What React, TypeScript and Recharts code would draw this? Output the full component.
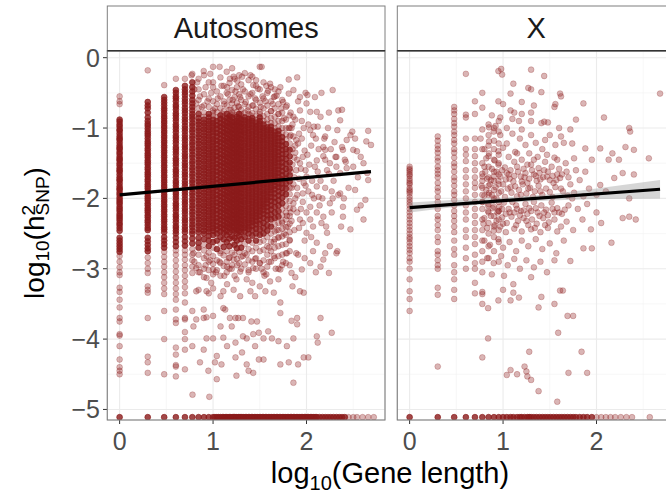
import React from "react";
import { ComposedChart, Scatter, Line, Area, XAxis, YAxis, CartesianGrid } from "recharts";

const RED = "#8B1A1A";
const FONT = "Liberation Sans, Arial, sans-serif";
const X_DOMAIN: [number, number] = [-0.135, 2.84];
const Y_DOMAIN: [number, number] = [-5.15, 0.095];
const xTicks = [0, 1, 2];
const yTicks = [0, -1, -2, -3, -4, -5];
const xMinor = [0.5, 1.5, 2.5];
const yMinor = [-0.5, -1.5, -2.5, -3.5, -4.5];
const panelNames = ["Autosomes", "X"];
const FLOOR = -5.11;

// Autosomes: short genes sit on discrete log10 positions
const autoColumnX = [0, 0.301, 0.477, 0.602, 0.699, 0.778];
// where the genes in a column pile up so much that the strip is solid
const autoColumnCoreTop = [-0.88, -0.63, -0.56, -0.46, -0.4, -0.35];
const autoColumnCoreBottom = [-2.76, -2.75, -2.7, -2.7, -2.7, -2.7];
const autoColumnY = [
  [-0.55, -0.62, -0.66, -0.88, -0.91, -0.95, -0.98, -1.02, -1.04, -1.08, -1.12, -1.15, -1.17, -1.21, -1.25, -1.28, -1.3, -1.34, -1.37, -1.41, -1.44, -1.46, -1.5, -1.53, -1.57, -1.6, -1.62, -1.66, -1.7, -1.73, -1.75, -1.79, -1.83, -1.86, -1.88, -1.92, -1.95, -1.99, -2.02, -2.05, -2.08, -2.12, -2.15, -2.18, -2.22, -2.25, -2.28, -2.31, -2.35, -2.38, -2.42, -2.46, -2.56, -2.6, -2.64, -2.68, -2.72, -2.76, -2.82, -2.9, -2.98, -3.05, -3.09, -3.27, -3.33, -3.44, -3.55, -3.7, -3.75, -3.93, -3.95, -4.1, -4.29, -4.4, -4.45, -4.5],
  [-0.18, -0.63, -0.68, -0.72, -0.78, -0.85, -0.9, -0.94, -0.97, -1.01, -1.05, -1.08, -1.11, -1.15, -1.19, -1.22, -1.25, -1.29, -1.32, -1.36, -1.39, -1.42, -1.46, -1.49, -1.52, -1.56, -1.59, -1.63, -1.66, -1.69, -1.73, -1.76, -1.8, -1.83, -1.86, -1.9, -1.93, -1.97, -2.0, -2.03, -2.07, -2.1, -2.14, -2.17, -2.2, -2.24, -2.27, -2.31, -2.34, -2.38, -2.42, -2.45, -2.56, -2.61, -2.66, -2.71, -2.75, -2.84, -2.92, -3.0, -3.06, -3.25, -3.3, -3.34, -3.7, -4.25, -4.33, -4.48],
  [-0.39, -0.56, -0.6, -0.64, -0.68, -0.72, -0.75, -0.79, -0.83, -0.86, -0.9, -0.93, -0.97, -1.0, -1.04, -1.07, -1.11, -1.14, -1.18, -1.21, -1.25, -1.28, -1.32, -1.35, -1.39, -1.42, -1.46, -1.49, -1.53, -1.56, -1.6, -1.63, -1.67, -1.7, -1.74, -1.77, -1.81, -1.84, -1.88, -1.91, -1.95, -1.98, -2.02, -2.05, -2.09, -2.12, -2.16, -2.19, -2.23, -2.26, -2.3, -2.33, -2.37, -2.41, -2.44, -2.48, -2.55, -2.6, -2.65, -2.7, -2.76, -2.83, -2.9, -2.97, -3.05, -3.12, -3.2, -3.28, -3.36, -3.6, -4.0, -4.5],
  [-0.3, -0.46, -0.5, -0.55, -0.58, -0.62, -0.67, -0.7, -0.74, -0.79, -0.82, -0.86, -0.9, -0.95, -0.98, -1.02, -1.06, -1.11, -1.14, -1.18, -1.22, -1.27, -1.3, -1.34, -1.38, -1.43, -1.46, -1.5, -1.54, -1.59, -1.62, -1.66, -1.7, -1.75, -1.78, -1.82, -1.86, -1.91, -1.94, -1.98, -2.02, -2.07, -2.1, -2.14, -2.18, -2.23, -2.26, -2.3, -2.34, -2.39, -2.42, -2.46, -2.5, -2.56, -2.62, -2.68, -2.74, -2.8, -2.88, -2.96, -3.04, -3.12, -3.2, -3.28, -3.36, -3.44, -3.58, -3.72, -3.77, -4.12, -4.22, -4.37, -4.39, -4.53],
  [-0.3, -0.4, -0.45, -0.49, -0.53, -0.58, -0.62, -0.66, -0.71, -0.75, -0.79, -0.84, -0.88, -0.92, -0.97, -1.01, -1.05, -1.1, -1.14, -1.18, -1.23, -1.27, -1.31, -1.36, -1.4, -1.44, -1.49, -1.53, -1.57, -1.62, -1.66, -1.7, -1.75, -1.79, -1.83, -1.88, -1.92, -1.96, -2.01, -2.05, -2.09, -2.14, -2.18, -2.22, -2.27, -2.31, -2.35, -2.4, -2.44, -2.48, -2.55, -2.61, -2.67, -2.74, -2.8, -2.87, -2.95, -3.02, -3.1, -3.18, -3.26, -3.35, -3.48, -3.7, -3.72, -3.9, -4.0, -4.15, -4.43],
  [-0.23, -0.35, -0.42, -0.48, -0.54, -0.6, -0.65, -0.7, -0.75, -0.8, -0.84, -0.88, -0.93, -0.97, -1.02, -1.06, -1.11, -1.15, -1.2, -1.24, -1.29, -1.33, -1.38, -1.42, -1.47, -1.51, -1.56, -1.6, -1.65, -1.69, -1.74, -1.78, -1.83, -1.87, -1.92, -1.96, -2.01, -2.05, -2.1, -2.14, -2.19, -2.23, -2.28, -2.32, -2.37, -2.41, -2.46, -2.5, -2.57, -2.64, -2.72, -2.8, -2.88, -2.97, -3.06, -3.6, -4.1],
];

// Autosomes: the dense core, read in thin vertical strips
const autoBlockX = [0.845, 0.903, 0.954, 1.0, 1.041, 1.079, 1.114, 1.146, 1.176, 1.204, 1.23, 1.255, 1.279, 1.301, 1.34, 1.38, 1.42, 1.46, 1.5, 1.54, 1.58, 1.62, 1.66, 1.7, 1.74, 1.78, 1.82];
const autoBlockCoreTop = [-0.8, -0.88, -0.78, -0.84, -0.9, -0.8, -0.86, -0.76, -0.83, -0.8, -0.88, -0.82, -0.78, -0.86, -0.8, -0.85, -0.82, -0.9, -0.84, -0.92, -0.95, -0.98, -1.02, -1.0, -1.1, -1.2, -1.3];
const autoBlockCoreBottom = [-2.7, -2.58, -2.76, -2.62, -2.72, -2.55, -2.69, -2.62, -2.76, -2.54, -2.66, -2.71, -2.6, -2.7, -2.55, -2.65, -2.53, -2.62, -2.52, -2.5, -2.46, -2.4, -2.3, -2.28, -2.1, -1.95, -1.8];
const autoBlockY = [
  [-0.3, -0.45, -0.6, -0.72, -0.8, -0.86, -0.91, -0.95, -1.0, -1.04, -1.09, -1.13, -1.18, -1.22, -1.27, -1.31, -1.36, -1.4, -1.45, -1.49, -1.54, -1.58, -1.63, -1.67, -1.72, -1.76, -1.81, -1.85, -1.9, -1.94, -1.99, -2.03, -2.08, -2.12, -2.17, -2.21, -2.26, -2.3, -2.35, -2.39, -2.44, -2.48, -2.56, -2.63, -2.7, -2.8, -2.95, -3.05, -3.3],
  [-0.25, -0.52, -0.68, -0.78, -0.84, -0.88, -0.93, -0.97, -1.02, -1.06, -1.11, -1.15, -1.2, -1.24, -1.29, -1.33, -1.38, -1.42, -1.47, -1.51, -1.56, -1.6, -1.65, -1.69, -1.74, -1.78, -1.83, -1.87, -1.92, -1.96, -2.01, -2.05, -2.1, -2.14, -2.19, -2.23, -2.28, -2.32, -2.37, -2.41, -2.46, -2.5, -2.58, -2.66, -2.74, -2.85, -3.0, -3.12],
  [-0.35, -0.58, -0.7, -0.8, -0.85, -0.9, -0.94, -0.99, -1.03, -1.08, -1.12, -1.17, -1.21, -1.26, -1.3, -1.35, -1.39, -1.44, -1.48, -1.53, -1.57, -1.62, -1.66, -1.71, -1.75, -1.8, -1.84, -1.89, -1.93, -1.98, -2.02, -2.07, -2.11, -2.16, -2.2, -2.25, -2.29, -2.34, -2.38, -2.43, -2.47, -2.53, -2.6, -2.68, -2.77, -2.9, -3.02, -3.35],
  [-0.13, -0.42, -0.62, -0.75, -0.83, -0.88, -0.93, -0.97, -1.02, -1.06, -1.11, -1.16, -1.2, -1.25, -1.29, -1.34, -1.38, -1.43, -1.47, -1.52, -1.56, -1.61, -1.65, -1.7, -1.74, -1.79, -1.83, -1.88, -1.92, -1.97, -2.01, -2.06, -2.1, -2.15, -2.19, -2.24, -2.28, -2.33, -2.37, -2.42, -2.46, -2.52, -2.62, -2.7, -2.82, -2.93, -3.08],
  [-0.48, -0.66, -0.77, -0.85, -0.9, -0.96, -1.01, -1.07, -1.12, -1.18, -1.23, -1.29, -1.34, -1.4, -1.45, -1.51, -1.56, -1.62, -1.67, -1.73, -1.78, -1.84, -1.89, -1.95, -2.0, -2.06, -2.11, -2.17, -2.22, -2.28, -2.33, -2.39, -2.44, -2.5, -2.6, -2.72, -2.88, -3.02],
  [-0.28, -0.55, -0.72, -0.82, -0.87, -0.93, -0.98, -1.04, -1.09, -1.15, -1.2, -1.26, -1.31, -1.37, -1.42, -1.48, -1.53, -1.59, -1.64, -1.7, -1.75, -1.81, -1.86, -1.92, -1.97, -2.03, -2.08, -2.14, -2.19, -2.25, -2.3, -2.36, -2.41, -2.47, -2.55, -2.64, -2.78, -2.92, -3.1],
  [-0.4, -0.62, -0.76, -0.84, -0.89, -0.95, -1.0, -1.06, -1.11, -1.17, -1.22, -1.28, -1.33, -1.39, -1.44, -1.5, -1.55, -1.61, -1.66, -1.72, -1.77, -1.83, -1.88, -1.94, -1.99, -2.05, -2.1, -2.16, -2.21, -2.27, -2.32, -2.38, -2.43, -2.49, -2.58, -2.69, -2.81, -2.96],
  [-0.2, -0.5, -0.68, -0.8, -0.86, -0.92, -0.97, -1.03, -1.08, -1.14, -1.19, -1.25, -1.3, -1.36, -1.41, -1.47, -1.52, -1.58, -1.63, -1.69, -1.74, -1.8, -1.85, -1.91, -1.96, -2.02, -2.07, -2.13, -2.18, -2.24, -2.29, -2.35, -2.4, -2.46, -2.52, -2.62, -2.75, -2.9, -3.05],
  [-0.36, -0.6, -0.74, -0.83, -0.88, -0.94, -0.99, -1.05, -1.1, -1.16, -1.21, -1.27, -1.32, -1.38, -1.43, -1.49, -1.54, -1.6, -1.65, -1.71, -1.76, -1.82, -1.87, -1.93, -1.98, -2.04, -2.09, -2.15, -2.2, -2.26, -2.31, -2.37, -2.42, -2.48, -2.57, -2.68, -2.84, -3.0],
  [-0.15, -0.46, -0.65, -0.78, -0.85, -0.91, -0.96, -1.02, -1.07, -1.13, -1.18, -1.24, -1.29, -1.35, -1.4, -1.46, -1.51, -1.57, -1.62, -1.68, -1.73, -1.79, -1.84, -1.9, -1.95, -2.01, -2.06, -2.12, -2.17, -2.23, -2.28, -2.34, -2.39, -2.45, -2.54, -2.63, -2.77, -2.95],
  [-0.3, -0.56, -0.71, -0.81, -0.87, -0.92, -0.98, -1.03, -1.09, -1.14, -1.2, -1.25, -1.31, -1.36, -1.42, -1.47, -1.53, -1.58, -1.64, -1.69, -1.75, -1.8, -1.86, -1.91, -1.97, -2.02, -2.08, -2.13, -2.19, -2.24, -2.3, -2.35, -2.41, -2.46, -2.56, -2.66, -2.8, -3.1],
  [-0.42, -0.64, -0.77, -0.84, -0.9, -0.95, -1.01, -1.06, -1.12, -1.17, -1.23, -1.28, -1.34, -1.39, -1.45, -1.5, -1.56, -1.61, -1.67, -1.72, -1.78, -1.83, -1.89, -1.94, -2.0, -2.05, -2.11, -2.16, -2.22, -2.27, -2.33, -2.38, -2.44, -2.5, -2.6, -2.71, -2.86],
  [-0.25, -0.52, -0.7, -0.8, -0.86, -0.92, -0.97, -1.03, -1.08, -1.14, -1.19, -1.25, -1.3, -1.36, -1.41, -1.47, -1.52, -1.58, -1.63, -1.69, -1.74, -1.8, -1.85, -1.91, -1.96, -2.02, -2.07, -2.13, -2.18, -2.24, -2.29, -2.35, -2.4, -2.46, -2.53, -2.64, -2.76, -2.92],
  [-0.38, -0.6, -0.74, -0.83, -0.88, -0.94, -0.99, -1.05, -1.1, -1.16, -1.21, -1.27, -1.32, -1.38, -1.43, -1.49, -1.54, -1.6, -1.65, -1.71, -1.76, -1.82, -1.87, -1.93, -1.98, -2.04, -2.09, -2.15, -2.2, -2.26, -2.31, -2.37, -2.42, -2.48, -2.58, -2.7, -2.83, -3.0],
  [-0.22, -0.48, -0.66, -0.78, -0.85, -0.89, -0.94, -0.98, -1.03, -1.07, -1.12, -1.16, -1.21, -1.25, -1.3, -1.34, -1.39, -1.43, -1.48, -1.52, -1.57, -1.61, -1.66, -1.7, -1.75, -1.79, -1.84, -1.88, -1.93, -1.97, -2.02, -2.06, -2.11, -2.15, -2.2, -2.24, -2.29, -2.33, -2.38, -2.42, -2.47, -2.55, -2.65, -2.78, -2.94],
  [-0.32, -0.55, -0.7, -0.8, -0.87, -0.91, -0.96, -1.0, -1.05, -1.09, -1.14, -1.18, -1.23, -1.27, -1.32, -1.36, -1.41, -1.45, -1.5, -1.54, -1.59, -1.63, -1.68, -1.72, -1.77, -1.81, -1.86, -1.9, -1.95, -1.99, -2.04, -2.08, -2.13, -2.17, -2.22, -2.26, -2.31, -2.35, -2.4, -2.44, -2.5, -2.6, -2.72, -2.88, -3.05],
  [-0.27, -0.5, -0.68, -0.79, -0.86, -0.9, -0.95, -0.99, -1.04, -1.08, -1.13, -1.17, -1.22, -1.26, -1.31, -1.35, -1.4, -1.44, -1.49, -1.53, -1.58, -1.62, -1.67, -1.71, -1.76, -1.8, -1.85, -1.89, -1.94, -1.98, -2.03, -2.07, -2.12, -2.16, -2.21, -2.25, -2.3, -2.34, -2.39, -2.45, -2.53, -2.63, -2.75, -2.9],
  [-0.4, -0.6, -0.73, -0.82, -0.88, -0.92, -0.97, -1.01, -1.06, -1.1, -1.15, -1.19, -1.24, -1.28, -1.33, -1.37, -1.42, -1.46, -1.51, -1.55, -1.6, -1.64, -1.69, -1.73, -1.78, -1.82, -1.87, -1.91, -1.96, -2.0, -2.05, -2.09, -2.14, -2.18, -2.23, -2.27, -2.32, -2.37, -2.43, -2.5, -2.6, -2.7, -2.85, -3.0],
  [-0.13, -0.45, -0.64, -0.77, -0.85, -0.9, -0.94, -0.99, -1.03, -1.08, -1.12, -1.17, -1.21, -1.26, -1.3, -1.35, -1.39, -1.44, -1.48, -1.53, -1.57, -1.62, -1.66, -1.71, -1.75, -1.8, -1.84, -1.89, -1.93, -1.98, -2.02, -2.07, -2.11, -2.16, -2.2, -2.25, -2.3, -2.36, -2.44, -2.52, -2.62, -2.75, -2.92],
  [-0.35, -0.58, -0.72, -0.83, -0.9, -0.95, -1.0, -1.04, -1.09, -1.13, -1.18, -1.22, -1.27, -1.31, -1.36, -1.4, -1.45, -1.49, -1.54, -1.58, -1.63, -1.67, -1.72, -1.76, -1.81, -1.85, -1.9, -1.94, -1.99, -2.03, -2.08, -2.12, -2.17, -2.22, -2.28, -2.35, -2.42, -2.5, -2.6, -2.73, -2.88, -3.05],
  [-0.5, -0.68, -0.8, -0.88, -0.94, -0.99, -1.03, -1.08, -1.12, -1.17, -1.21, -1.26, -1.3, -1.35, -1.39, -1.44, -1.48, -1.53, -1.57, -1.62, -1.66, -1.71, -1.75, -1.8, -1.84, -1.89, -1.93, -1.98, -2.02, -2.07, -2.12, -2.18, -2.24, -2.3, -2.38, -2.46, -2.55, -2.68, -2.8, -2.97],
  [-0.42, -0.62, -0.76, -0.86, -0.93, -0.98, -1.03, -1.07, -1.12, -1.16, -1.21, -1.25, -1.3, -1.34, -1.39, -1.43, -1.48, -1.52, -1.57, -1.61, -1.66, -1.7, -1.75, -1.79, -1.84, -1.88, -1.93, -1.98, -2.04, -2.1, -2.16, -2.23, -2.3, -2.4, -2.5, -2.62, -2.75, -2.9],
  [-0.55, -0.72, -0.84, -0.93, -1.0, -1.05, -1.1, -1.14, -1.19, -1.23, -1.28, -1.32, -1.37, -1.41, -1.46, -1.5, -1.55, -1.59, -1.64, -1.68, -1.73, -1.77, -1.82, -1.87, -1.93, -1.99, -2.05, -2.12, -2.2, -2.28, -2.37, -2.47, -2.58, -2.7, -2.85],
  [-0.48, -0.66, -0.8, -0.9, -0.98, -1.04, -1.09, -1.14, -1.19, -1.24, -1.29, -1.34, -1.39, -1.44, -1.49, -1.54, -1.59, -1.64, -1.69, -1.74, -1.79, -1.84, -1.9, -1.96, -2.03, -2.1, -2.18, -2.26, -2.35, -2.45, -2.56, -2.68, -2.82, -3.0],
  [-0.6, -0.78, -0.9, -1.0, -1.07, -1.13, -1.19, -1.25, -1.31, -1.37, -1.43, -1.49, -1.55, -1.61, -1.67, -1.73, -1.79, -1.85, -1.92, -1.99, -2.07, -2.15, -2.24, -2.33, -2.43, -2.54, -2.66, -2.8, -2.95],
  [-0.7, -0.88, -1.0, -1.09, -1.16, -1.23, -1.3, -1.37, -1.44, -1.51, -1.58, -1.65, -1.72, -1.79, -1.86, -1.94, -2.02, -2.11, -2.2, -2.3, -2.41, -2.52, -2.65, -2.78, -2.92],
  [-0.82, -1.0, -1.12, -1.22, -1.31, -1.4, -1.49, -1.58, -1.67, -1.76, -1.85, -1.94, -2.04, -2.14, -2.25, -2.36, -2.48, -2.6, -2.75],
];

// Autosomes: scattered genes around the core, [log10 length, log10 h2]
const autoScatter = [
  [0.9, -0.19], [1.07, -0.13], [1.52, -0.13], [1.31, -0.27], [1.4, -0.25], [1.61, -0.37], [1.72, -0.42], [1.81, -0.51], [1.15, -0.42], [1.22, -0.27],
  [0.97, -0.23], [0.77, -0.25], [0.83, -0.35], [1.0, -0.35], [1.43, -0.39], [1.65, -0.56], [1.75, -0.63], [1.93, -0.75], [1.86, -0.84], [1.81, -0.31],
  [1.9, -0.28], [1.99, -0.5], [2.01, -0.53], [2.09, -0.56], [2.16, -0.5], [2.28, -0.46], [1.86, -0.46], [2.04, -0.77], [2.11, -0.77], [2.24, -0.78],
  [2.34, -0.75], [2.38, -0.74], [2.36, -0.89], [2.49, -1.05], [2.52, -1.15], [2.66, -1.04], [2.64, -1.19], [2.69, -1.24], [2.33, -1.03], [2.15, -0.84],
  [2.0, -0.65], [1.93, -0.56], [2.08, -0.98], [2.2, -1.12], [2.43, -1.17], [2.38, -1.27], [2.5, -1.31], [2.58, -1.41], [2.42, -1.48], [2.2, -1.31],
  [2.31, -1.41], [2.43, -1.57], [2.65, -1.64], [1.89, -1.17], [2.04, -1.03], [2.18, -1.27], [2.32, -1.41], [2.39, -1.31], [2.54, -1.33], [2.61, -1.5],
  [2.66, -1.74], [2.52, -1.88], [2.63, -2.02], [2.61, -2.3], [2.47, -2.44], [2.36, -1.93], [2.25, -2.07], [2.18, -2.26], [2.04, -2.12], [1.93, -2.3],
  [2.0, -2.49], [2.11, -2.63], [2.25, -2.68], [2.32, -2.78], [2.18, -2.87], [2.04, -2.92], [1.89, -2.78], [1.82, -2.59], [1.95, -3.01], [2.39, -2.26],
  [2.5, -1.55], [2.36, -1.64], [2.22, -1.6], [2.11, -1.46], [1.96, -1.41], [2.0, -1.69], [2.11, -1.83], [1.96, -1.93], [1.89, -1.6], [1.86, -2.07],
  [2.07, -2.4], [2.22, -2.49], [2.39, -2.12], [2.54, -2.16], [1.88, -1.35], [1.92, -1.08], [1.97, -1.78], [1.9, -2.2], [2.05, -1.25], [2.13, -1.98],
  [0.86, -0.55], [0.88, -0.7], [0.92, -0.42], [0.94, -0.62], [0.98, -0.5], [1.02, -0.72], [1.05, -0.58], [1.09, -0.4], [1.12, -0.66], [1.16, -0.52],
  [1.19, -0.74], [1.21, -0.6], [1.24, -0.48], [1.27, -0.69], [1.29, -0.56], [1.32, -0.45], [1.35, -0.63], [1.37, -0.75], [1.4, -0.52], [1.43, -0.68],
  [1.45, -0.58], [1.48, -0.44], [1.51, -0.7], [1.53, -0.55], [1.56, -0.62], [1.59, -0.47], [1.62, -0.76], [1.64, -0.66], [1.68, -0.54], [1.7, -0.8],
  [1.73, -0.72], [1.76, -0.86], [1.79, -0.68], [1.83, -0.78], [1.85, -0.95], [1.88, -0.88], [1.91, -0.62], [1.95, -0.9], [0.8, -0.45], [0.82, -0.65],
  [1.26, -0.33], [1.18, -0.3], [1.46, -0.32], [1.57, -0.4], [1.66, -0.45], [1.0, -0.78], [1.1, -0.8], [1.2, -0.82], [1.3, -0.8], [1.4, -0.82], [1.5, -0.8],
  [1.84, -1.0], [1.86, -1.12], [1.88, -1.25], [1.9, -1.45], [1.85, -1.52], [1.87, -1.7], [1.84, -1.85], [1.9, -1.95], [1.86, -2.15], [1.84, -2.32],
  [1.92, -2.42], [1.95, -1.15], [1.98, -1.32], [1.94, -1.58], [1.99, -1.82], [1.96, -2.05], [2.0, -2.2], [2.02, -0.95], [2.03, -1.52], [2.06, -1.75],
  [2.08, -2.0], [2.05, -2.55], [2.1, -1.15], [2.12, -1.62], [2.14, -2.1], [2.16, -2.35], [2.18, -1.4], [2.2, -1.85], [2.23, -1.0], [2.25, -1.5],
  [2.27, -2.2], [2.29, -1.75], [2.3, -1.2], [2.34, -1.95], [2.37, -2.4], [2.41, -1.45], [2.45, -1.85], [2.47, -1.1], [2.55, -1.7], [2.58, -2.1],
  [1.8, -2.4], [1.76, -2.5], [1.7, -2.55], [1.65, -2.62], [1.6, -2.7], [1.68, -2.45], [1.74, -2.35], [1.79, -2.25],
  [1.83, -1.1], [1.85, -1.3], [1.87, -1.42], [1.83, -1.62], [1.86, -1.8], [1.88, -2.0], [1.83, -2.2], [1.87, -2.45], [1.91, -1.22], [1.93, -1.5],
  [1.92, -1.72], [1.94, -2.15], [1.97, -1.0], [1.99, -1.6], [2.01, -1.38], [2.02, -1.9], [2.04, -2.3], [2.07, -1.1], [2.09, -1.55], [2.11, -2.2],
  [2.13, -1.3], [2.15, -1.75], [2.17, -2.0], [2.19, -1.15], [2.21, -2.4], [2.24, -1.65], [2.26, -1.3], [2.28, -2.0], [1.81, -1.0], [1.9, -1.85],
  [1.96, -2.35], [2.06, -1.95], [2.12, -0.98], [1.98, -2.6], [2.2, -1.45], [2.32, -1.55], [2.27, -1.9], [2.4, -2.0],
  [0.79, -2.78], [0.93, -2.82], [1.08, -2.75], [1.22, -2.87], [1.36, -2.8], [1.5, -2.92], [1.65, -2.82], [1.79, -2.78], [1.91, -2.8], [2.07, -2.75],
  [2.2, -2.78], [2.33, -2.75], [2.15, -2.97], [2.24, -3.06], [0.82, -2.99], [1.0, -3.01], [1.15, -2.97], [1.29, -3.04], [1.43, -2.99], [1.57, -3.08],
  [1.72, -3.01], [1.84, -3.06], [0.93, -3.13], [1.36, -3.15], [1.61, -3.18], [1.5, -3.25], [0.82, -3.32], [0.93, -3.32], [1.0, -3.28], [1.11, -3.32],
  [0.8, -2.9], [0.86, -3.05], [0.92, -2.95], [0.97, -2.88], [1.03, -3.05], [1.07, -2.9], [1.12, -3.1], [1.17, -2.85], [1.2, -3.0], [1.26, -2.95],
  [1.32, -2.82], [1.38, -3.02], [1.45, -2.86], [1.52, -3.0], [1.6, -2.9], [1.67, -3.0], [1.75, -2.9], [1.82, -2.95], [1.88, -3.12], [1.98, -2.85],
  [2.1, -3.05], [1.25, -3.15], [1.42, -3.2], [0.98, -3.2], [1.55, -3.1], [1.7, -3.15], [1.85, -3.25], [1.15, -3.22],
  [1.22, -3.3], [1.29, -3.39], [1.4, -3.32], [1.56, -3.32], [1.65, -3.34], [1.93, -3.32], [1.97, -3.34], [1.08, -3.39], [1.72, -3.48], [1.45, -3.39],
  [0.9, -3.58], [1.11, -3.56], [1.13, -3.58], [0.82, -3.72], [0.9, -3.7], [0.93, -3.69], [1.0, -3.67], [1.18, -3.7], [1.24, -3.7], [1.27, -3.7],
  [1.32, -3.7], [1.41, -3.75], [1.47, -3.75], [1.72, -3.63], [1.84, -3.74], [1.9, -3.7], [2.15, -3.7], [0.79, -3.82], [1.08, -3.82], [1.2, -3.82],
  [1.59, -3.89], [1.49, -3.91], [1.43, -3.93], [1.9, -3.79], [2.27, -3.91], [2.11, -3.96], [2.12, -4.05], [0.93, -3.99], [1.0, -3.99], [1.11, -3.98],
  [1.32, -3.96], [1.36, -3.99], [1.45, -4.1], [1.54, -3.99], [1.63, -3.99], [1.7, -4.03], [1.79, -4.1], [1.86, -3.99], [1.24, -4.05], [1.15, -4.1],
  [0.9, -4.15], [1.04, -4.24], [1.02, -4.33], [0.86, -4.33], [1.09, -4.36], [1.24, -4.26], [1.31, -4.19], [1.36, -4.36], [1.38, -4.45], [1.49, -4.29],
  [1.54, -4.29], [1.72, -4.36], [1.81, -4.33], [1.91, -4.36], [1.97, -4.26], [2.02, -4.26], [0.95, -4.45], [1.25, -4.52], [1.43, -4.48], [1.86, -4.62],
  [1.04, -4.57], [0.78, -4.79], [0.96, -4.82],
];

// genes whose estimate hit the floor: a packed run, then a thin tail
const autoFloorX = [
  0, 0.301, 0.477, 0.602, 0.699, 0.778, 0.845, 0.903, 0.954, 1.0, 1.02, 1.041, 1.06, 1.079, 1.1, 1.114, 1.13, 1.146, 1.16, 1.176, 1.19, 1.204, 1.22,
  1.23, 1.245, 1.255, 1.27, 1.279, 1.29, 1.301, 1.32, 1.33, 1.35, 1.36, 1.38, 1.39, 1.41, 1.42, 1.44, 1.45, 1.47, 1.48, 1.5, 1.51, 1.53, 1.54, 1.56,
  1.57, 1.59, 1.6, 1.62, 1.63, 1.65, 1.66, 1.68, 1.69, 1.71, 1.72, 1.74, 1.75, 1.77, 1.78, 1.8, 1.81, 1.83, 1.84, 1.86, 1.87, 1.89, 1.9, 1.92, 1.93,
  1.95, 1.96, 1.98, 1.99, 2.01, 2.02, 2.04, 2.05, 2.07, 2.08, 2.1, 2.11, 2.14, 2.17, 2.2, 2.23, 2.26, 2.29, 2.32, 2.35, 2.38, 2.41,
];
const autoFloorTailX = [2.45, 2.5, 2.54, 2.6, 2.66, 2.72];

// X chromosome
const xColumnX = [0, 0.301, 0.477, 0.602, 0.699, 0.778, 0.845, 0.903, 0.954];
const xColumnY = [
  [-1.55, -1.58, -1.6, -1.63, -1.66, -1.68, -1.72, -1.75, -1.78, -1.8, -1.85, -1.88, -1.9, -1.93, -1.98, -2.02, -2.06, -2.1, -2.15, -2.2, -2.25, -2.3, -2.35, -2.4, -2.45, -2.5, -2.55, -2.58, -2.63, -2.68, -2.73, -2.78, -2.85, -2.9, -3.0, -3.15, -3.32, -3.43, -3.6],
  [-1.12, -1.18, -1.25, -1.3, -1.35, -1.42, -1.47, -1.55, -1.6, -1.65, -1.7, -1.78, -1.85, -1.9, -1.98, -2.05, -2.15, -2.25, -2.3, -2.38, -2.45, -2.55, -2.62, -2.75, -2.8, -2.88, -2.95, -3.0, -3.27, -3.37, -4.39],
  [-0.7, -0.75, -0.8, -0.87, -0.93, -0.98, -1.05, -1.1, -1.17, -1.22, -1.3, -1.35, -1.42, -1.5, -1.55, -1.62, -1.7, -1.75, -1.82, -1.9, -1.95, -2.02, -2.1, -2.18, -2.25, -2.32, -2.4, -2.48, -2.6, -2.72, -2.8, -2.95, -3.05, -3.15, -3.3, -3.43],
  [-0.23, -0.81, -0.85, -1.15, -1.3, -1.38, -1.47, -1.6, -1.7, -1.8, -1.9, -2.0, -2.1, -2.2, -2.3, -2.45, -2.55, -2.7, -2.85, -3.0],
  [-0.62, -0.8, -1.15, -1.3, -1.4, -1.5, -1.6, -1.7, -1.78, -1.85, -1.95, -2.05, -2.15, -2.25, -2.35, -2.45, -2.55, -2.65, -2.8, -2.92, -3.0, -3.2, -3.35],
  [-0.5, -0.71, -1.02, -1.3, -1.5, -1.65, -1.75, -1.85, -1.95, -2.05, -2.15, -2.3, -2.45, -2.6, -2.75, -2.9, -3.05, -3.33, -3.36, -3.5, -4.26],
  [-0.95, -1.1, -1.25, -1.4, -1.55, -1.7, -1.82, -1.95, -2.08, -2.2, -2.35, -2.5, -2.68, -2.85],
  [-1.0, -1.18, -1.3, -1.45, -1.62, -1.75, -1.88, -2.0, -2.12, -2.25, -2.4, -2.55, -2.75],
  [-0.9, -1.05, -1.22, -1.38, -1.5, -1.66, -1.8, -1.92, -2.05, -2.18, -2.3, -2.45, -2.62, -2.9],
];

const xScatter = [
  [0.95, -0.19], [0.98, -0.16], [0.99, -0.24], [1.3, -0.17], [1.44, -0.26], [1.11, -0.37], [1.08, -0.51], [1.27, -0.43], [1.3, -0.45], [1.41, -0.49],
  [1.61, -0.51], [1.62, -0.55], [2.68, -0.51], [0.95, -0.62], [1.0, -0.66], [1.2, -0.63], [1.33, -0.68], [1.55, -0.7], [1.86, -0.65], [1.08, -0.75],
  [1.12, -0.78], [1.2, -0.8], [1.3, -0.78], [0.88, -0.82], [0.97, -0.85], [1.1, -0.87], [1.17, -0.9], [1.3, -0.9], [1.41, -0.93], [1.44, -0.91],
  [1.78, -0.88], [2.08, -0.85], [1.48, -0.92], [0.85, -0.99], [0.92, -0.97], [1.04, -1.0], [1.2, -1.02], [1.6, -1.0], [1.72, -1.02], [2.36, -1.05],
  [1.56, -0.66], [2.35, -1.0],
  [0.76, -1.15], [0.85, -1.19], [0.97, -1.1], [1.04, -1.22], [1.13, -1.34], [1.24, -1.24], [1.35, -1.21], [1.45, -1.17], [1.56, -1.24], [1.65, -1.21],
  [1.74, -1.22], [1.88, -1.29], [2.04, -1.29], [2.17, -1.36], [2.31, -1.27], [2.4, -1.31], [2.56, -1.43], [0.85, -1.36], [0.95, -1.33], [1.06, -1.41],
  [1.15, -1.36], [1.28, -1.36], [1.37, -1.41], [1.47, -1.38], [1.58, -1.45], [1.67, -1.5], [1.76, -1.43], [1.95, -1.45], [2.13, -1.45], [2.24, -1.45],
  [0.9, -1.05], [1.1, -1.08], [1.18, -1.15], [1.3, -1.1], [1.5, -1.1], [1.62, -1.12], [0.8, -1.3], [1.0, -1.28], [1.2, -1.45], [1.42, -1.3],
  [0.78, -1.69], [0.83, -1.72], [0.9, -1.69], [0.97, -1.69], [1.04, -1.64], [1.11, -1.76], [1.19, -1.69], [1.26, -1.78], [1.33, -1.66], [1.4, -1.73],
  [1.47, -1.69], [1.54, -1.78], [1.61, -1.71], [1.72, -1.8], [1.82, -1.74], [1.92, -1.86], [2.04, -1.81], [2.19, -1.71], [2.28, -1.64], [2.4, -1.66],
  [0.8, -1.55], [0.88, -1.58], [0.95, -1.52], [1.02, -1.56], [1.08, -1.6], [1.15, -1.55], [1.22, -1.58], [1.3, -1.52], [1.38, -1.57], [1.44, -1.6],
  [1.52, -1.55], [1.6, -1.58], [1.68, -1.62], [1.78, -1.6], [1.88, -1.62], [0.77, -1.82], [0.82, -1.88], [0.86, -1.8], [0.92, -1.84], [0.98, -1.9],
  [1.0, -1.8], [1.05, -1.86], [1.09, -1.92], [1.13, -1.83], [1.17, -1.88], [1.21, -1.8], [1.25, -1.93], [1.29, -1.85], [1.34, -1.9], [1.38, -1.82],
  [1.42, -1.95], [1.46, -1.86], [1.5, -1.91], [1.56, -1.84], [1.64, -1.9], [1.69, -1.96], [1.76, -1.92], [1.86, -1.97], [2.0, -1.95], [2.1, -1.9],
  [0.88, -1.95], [1.02, -1.98], [1.15, -1.97], [1.32, -1.98], [0.8, -1.96], [0.95, -1.75], [1.07, -1.72], [1.23, -1.7], [1.36, -1.75], [1.5, -1.74],
  [1.58, -1.66], [1.45, -1.48],
  [0.81, -1.62], [0.87, -1.74], [0.93, -1.62], [0.99, -1.6], [1.03, -1.73], [1.06, -1.66], [1.12, -1.68], [1.16, -1.62], [1.2, -1.76], [1.24, -1.64],
  [1.28, -1.72], [1.31, -1.6], [1.35, -1.68], [1.39, -1.64], [1.43, -1.7], [1.48, -1.62], [1.53, -1.68], [1.57, -1.74], [1.63, -1.66], [1.7, -1.7],
  [0.85, -1.92], [0.93, -2.0], [1.08, -1.84], [1.19, -1.95], [1.27, -1.86], [1.4, -1.9], [1.53, -1.98], [1.62, -1.86], [1.74, -2.0],
  [0.82, -1.43], [0.91, -1.46], [1.12, -1.48], [1.26, -1.52], [1.33, -1.45], [1.55, -1.42],
  [0.78, -2.05], [0.84, -2.1], [0.9, -2.03], [0.96, -2.12], [1.01, -2.06], [1.06, -2.15], [1.1, -2.05], [1.14, -2.1], [1.19, -2.18], [1.24, -2.08],
  [1.28, -2.14], [1.33, -2.05], [1.37, -2.2], [1.41, -2.1], [1.46, -2.16], [1.52, -2.06], [1.58, -2.14], [1.63, -2.22], [1.7, -2.1], [1.8, -2.15],
  [1.9, -2.08], [2.0, -2.2], [2.35, -2.0], [2.28, -2.28], [2.35, -2.26], [2.42, -2.3], [0.8, -2.28], [0.87, -2.25], [0.93, -2.32], [0.99, -2.27],
  [1.04, -2.35], [1.09, -2.26], [1.16, -2.32], [1.22, -2.28], [1.27, -2.38], [1.31, -2.3], [1.36, -2.36], [1.43, -2.28], [1.49, -2.34], [1.55, -2.3],
  [1.62, -2.4], [1.68, -2.33], [1.75, -2.45], [1.94, -2.44], [0.83, -2.42], [0.9, -2.46], [0.97, -2.4], [1.03, -2.48], [1.12, -2.43], [1.2, -2.47],
  [1.3, -2.44], [1.4, -2.48], [1.48, -2.42], [1.58, -2.47], [2.16, -2.63], [2.05, -2.35], [1.85, -2.3], [1.12, -2.2], [0.94, -2.2], [1.55, -2.2],
  [0.84, -2.18], [0.89, -2.14], [0.95, -2.18], [0.99, -2.15], [1.03, -2.22], [1.07, -2.2], [1.15, -2.15], [1.18, -2.24], [1.22, -2.17], [1.26, -2.22],
  [1.3, -2.18], [1.35, -2.14], [1.39, -2.25], [1.44, -2.2], [1.48, -2.24], [1.53, -2.15], [1.6, -2.2], [1.66, -2.16], [0.79, -2.36], [0.91, -2.38],
  [1.0, -2.36], [1.14, -2.38], [1.25, -2.32], [1.34, -2.42], [1.45, -2.38],
  [0.8, -2.6], [0.86, -2.66], [0.95, -2.58], [1.0, -2.7], [1.07, -2.62], [1.14, -2.75], [1.2, -2.6], [1.27, -2.68], [1.35, -2.58], [1.42, -2.72],
  [1.5, -2.64], [1.57, -2.78], [1.65, -2.6], [1.86, -2.71], [1.95, -2.71], [0.83, -2.85], [0.9, -2.92], [0.98, -2.82], [1.05, -2.95], [1.12, -2.86],
  [1.18, -3.0], [1.25, -2.88], [1.33, -2.98], [1.4, -2.9], [1.47, -3.05], [1.55, -2.88], [1.72, -2.89], [0.88, -3.08], [1.01, -3.1], [1.3, -3.12],
  [1.11, -3.22], [1.11, -3.34], [1.08, -3.45], [1.17, -3.41], [1.41, -3.4], [1.61, -3.31], [1.64, -3.31], [1.69, -3.67], [1.59, -3.91], [0.84, -3.99],
  [1.28, -4.18], [1.84, -4.18], [1.23, -4.39], [1.25, -4.46], [1.26, -4.53], [1.3, -4.58], [1.15, -4.5], [1.08, -4.44], [1.04, -4.51], [1.7, -4.48],
  [1.9, -4.48], [1.38, -4.74], [1.58, -4.89], [0.84, -3.56], [0.95, -3.45], [1.0, -3.3], [1.38, -3.55], [1.55, -3.5], [1.75, -3.67],
];

const xFloorX = [
  0, 0.301, 0.477, 0.602, 0.699, 0.778, 0.845, 0.903, 0.954, 1.0, 1.04, 1.08, 1.11, 1.15, 1.18, 1.2, 1.23, 1.26, 1.28, 1.3, 1.33, 1.36, 1.39,
  1.42, 1.45, 1.48, 1.51, 1.54, 1.57, 1.6, 1.63, 1.66, 1.69, 1.72, 1.75, 1.78, 1.82, 1.86, 1.9, 1.95,
];
const xFloorTailX = [2.0, 2.05, 2.1, 2.15, 2.2, 2.26, 2.32, 2.38, 2.57];

// fitted lines and the X confidence band
const autoFit = [{ x: 0, y: -1.95 }, { x: 2.69, y: -1.62 }];
const xFit = [{ x: 0, y: -2.13 }, { x: 2.68, y: -1.87 }];
const xBandX = [0, 0.5, 1, 1.5, 2, 2.68];
const xBandLow = [-2.2, -2.12, -2.06, -2.03, -2.01, -2.0];
const xBandHigh = [-2.06, -2.02, -1.99, -1.94, -1.86, -1.74];

type Pt = { x: number; y: number };

const fromColumns = (xs: number[], ys: number[][]) => xs.flatMap((x, i) => ys[i].map((y) => ({ x, y })));
const fromPairs = (pairs: number[][]) => pairs.map(([x, y]) => ({ x, y }));
const fromFloor = (xs: number[]) => xs.map((x) => ({ x, y: FLOOR }));

// split column points into the saturated pile and its lighter fringe
const splitColumns = (xs: number[], ys: number[][], tops: number[], bottoms: number[]) => {
  const core: Pt[] = [];
  const fringe: Pt[] = [];
  xs.forEach((x, i) =>
    ys[i].forEach((y) => (y <= tops[i] && y >= bottoms[i] ? core : fringe).push({ x, y }))
  );
  return { core, fringe };
};

const autoCols = splitColumns(autoColumnX, autoColumnY, autoColumnCoreTop, autoColumnCoreBottom);
const autoBlock = splitColumns(autoBlockX, autoBlockY, autoBlockCoreTop, autoBlockCoreBottom);

const autoCore = [...autoCols.core, ...autoBlock.core, ...fromFloor(autoFloorX)];
const autoLight = [...autoCols.fringe, ...autoBlock.fringe, ...fromPairs(autoScatter), ...fromFloor(autoFloorTailX)];
const xCore = fromFloor(xFloorX);
const xLight = [...fromColumns(xColumnX, xColumnY), ...fromPairs(xScatter), ...fromFloor(xFloorTailX)];
const xBand = xBandX.map((x, i) => ({ x, band: [xBandLow[i], xBandHigh[i]] }));

const makeDot = (alpha: number) => (props: any) => (
  <circle
    cx={props.cx}
    cy={props.cy}
    r={2.9}
    fill={RED}
    fillOpacity={alpha}
    stroke={RED}
    strokeOpacity={alpha}
    strokeWidth={0.8}
  />
);
const LightDot = makeDot(0.32);
const PileDot = makeDot(0.8);

const fmtY = (v: number) => (v < 0 ? `\u2212${Math.abs(v)}` : `${v}`);

interface PanelProps {
  light: Pt[];
  core: Pt[];
  fit: Pt[];
  band?: { x: number; band: number[] }[];
  showY: boolean;
  width: number;
  left: number;
  right: number;
}

const Panel = ({ light, core, fit, band, showY, width, left, right }: PanelProps) => (
  <ComposedChart width={width} height={497} margin={{ top: 51, right, bottom: 37, left }}>
    <CartesianGrid verticalValues={xMinor} horizontalValues={yMinor} stroke="#F2F2F2" strokeWidth={0.6} />
    <CartesianGrid stroke="#EBEBEB" strokeWidth={1.1} />
    <XAxis
      type="number"
      dataKey="x"
      domain={X_DOMAIN}
      ticks={xTicks}
      allowDataOverflow
      axisLine={false}
      tickLine={{ stroke: "#333333" }}
      tickSize={4}
      tickMargin={8}
      height={40}
      tick={{ fill: "#4D4D4D", fontSize: 25, fontFamily: FONT }}
    />
    <YAxis
      type="number"
      dataKey="y"
      domain={Y_DOMAIN}
      ticks={yTicks}
      allowDataOverflow
      hide={!showY}
      width={107}
      axisLine={false}
      tickLine={{ stroke: "#333333" }}
      tickSize={4}
      tickMargin={3}
      tickFormatter={fmtY}
      tick={{ fill: "#4D4D4D", fontSize: 25, fontFamily: FONT }}
    />
    <Scatter data={light} shape={LightDot} isAnimationActive={false} zIndex={100} />
    <Scatter data={core} shape={PileDot} isAnimationActive={false} zIndex={110} />
    {band && (
      <Area
        data={band}
        dataKey="band"
        stroke="none"
        fill="#999999"
        fillOpacity={0.4}
        isAnimationActive={false}
        zIndex={200}
      />
    )}
    <Line
      data={fit}
      dataKey="y"
      stroke="#000000"
      strokeWidth={3.2}
      dot={false}
      isAnimationActive={false}
      zIndex={300}
    />
  </ComposedChart>
);

export default function App() {
  return (
    <div
      style={{
        position: "fixed",
        left: 0,
        top: 0,
        width: 666,
        height: 497,
        overflow: "hidden",
        background: "#ffffff",
      }}
    >
      <div style={{ position: "absolute", left: 0, top: 0 }}>
        <Panel light={autoLight} core={autoCore} fit={autoFit} showY width={390} left={0} right={5} />
      </div>
      <div style={{ position: "absolute", left: 390, top: 0 }}>
        <Panel light={xLight} core={xCore} fit={xFit} band={xBand} showY={false} width={300} left={7} right={15} />
      </div>
      <svg
        width={666}
        height={497}
        style={{ position: "absolute", left: 0, top: 0, pointerEvents: "none" }}
        fontFamily={FONT}
      >
        {[107.3, 397.3].map((x, i) => (
          <g key={panelNames[i]}>
            <rect x={x} y={50.7} width={277.7} height={369.3} fill="none" stroke="#7F7F7F" strokeWidth={1.1} />
            <rect x={x} y={6} width={277.7} height={44.7} fill="#ffffff" stroke="#7F7F7F" strokeWidth={1} />
            <line x1={x} x2={x + 277.7} y1={50.7} y2={50.7} stroke="#333333" strokeWidth={1.6} />
            <text x={x + 138.9} y={38} textAnchor="middle" fontSize={29} fill="#1A1A1A">
              {panelNames[i]}
            </text>
          </g>
        ))}
        <text x={390} y={483} textAnchor="middle" fontSize={29} fill="#000000">
          log
          <tspan fontSize={20} dy={7}>10</tspan>
          <tspan dy={-7}>(Gene length)</tspan>
        </text>
        <text transform="translate(44,233) rotate(-90)" textAnchor="middle" fontSize={28} fill="#000000">
          log
          <tspan fontSize={19} dy={5}>10</tspan>
          <tspan dy={-5}>(h</tspan>
          <tspan fontSize={19} dy={-9}>2</tspan>
          <tspan fontSize={19} dx={-10.6} dy={14}>SNP</tspan>
          <tspan dy={-5}>)</tspan>
        </text>
      </svg>
    </div>
  );
}
